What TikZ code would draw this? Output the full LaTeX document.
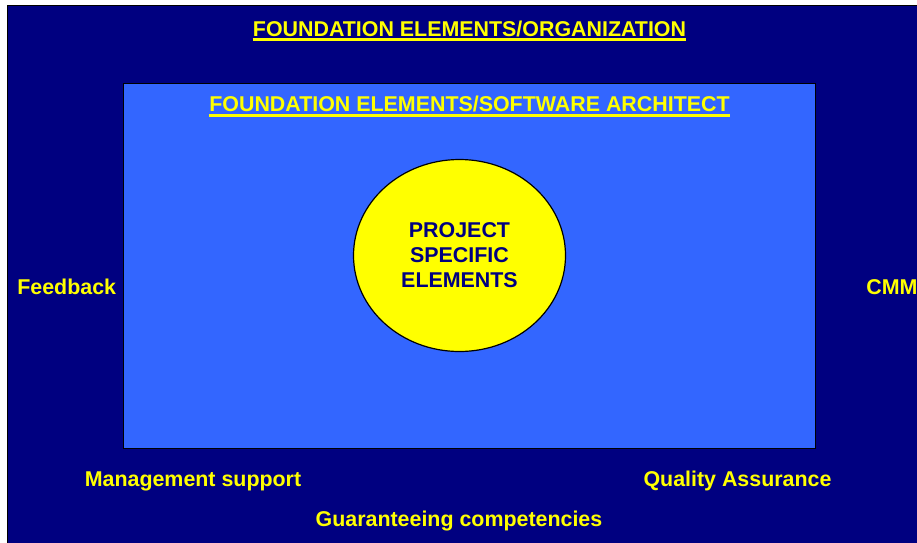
\documentclass[tikz,border=0pt]{standalone}
\usepackage{fontspec}
\setmainfont{Liberation Sans}
\usetikzlibrary{shapes.geometric, positioning}
\definecolor{navy}{HTML}{000080}
\definecolor{panel}{HTML}{3366FF}
\definecolor{lemon}{HTML}{FFFF00}
\tikzset{every picture/.style={line width=0.75pt}}

\begin{document}
\begin{tikzpicture}[x=1pt, y=-1pt,
        txt/.style={inner sep=0pt, text=lemon, font=\bfseries\fontsize{21.4}{25}\selectfont},
        core/.style={ellipse, draw=black, line width=1.2pt, fill=lemon, minimum width=212pt, minimum height=192pt,
            align=center, text=navy, font=\bfseries\fontsize{21.4}{25}\selectfont},
        uline/.style={lemon, line width=2.8pt}]
        \useasboundingbox (0,0) rectangle (917,542);
        \fill[white] (0,0) rectangle (917,542);
        \clip (0,0) rectangle (917,542);

        % organization and architect boxes
        \draw[fill=navy, thick] (7,5) rectangle (940,560);
        \draw[fill=panel, thick] (123,83) rectangle (815,448);

        \node[txt, anchor=base] (org) at (469.5,36) {FOUNDATION ELEMENTS/ORGANIZATION};
        \node[txt, anchor=base] (arch) at (469.5,111) {FOUNDATION ELEMENTS/SOFTWARE ARCHITECT};
        \draw[uline] ([yshift=-3.6pt]org.base west) -- ([yshift=-3.6pt]org.base east);
        \draw[uline] ([yshift=-4.8pt]arch.base west) -- ([yshift=-4.8pt]arch.base east);

        \node[core] (proj) at (459.5,255.5) {PROJECT\\SPECIFIC\\ELEMENTS};

        \node[txt, anchor=base west] (fb) at (17,294) {Feedback};
        \node[txt, anchor=base west] (cmm) at (866,294) {CMM};
        \node[txt, anchor=base] (mgmt) at (193,486) {Management support};
        \node[txt, anchor=base] (qa) at (737.5,486) {Quality Assurance};
        \node[txt, anchor=base] (comp) at (459,526) {Guaranteeing competencies};
\end{tikzpicture}
\end{document}
